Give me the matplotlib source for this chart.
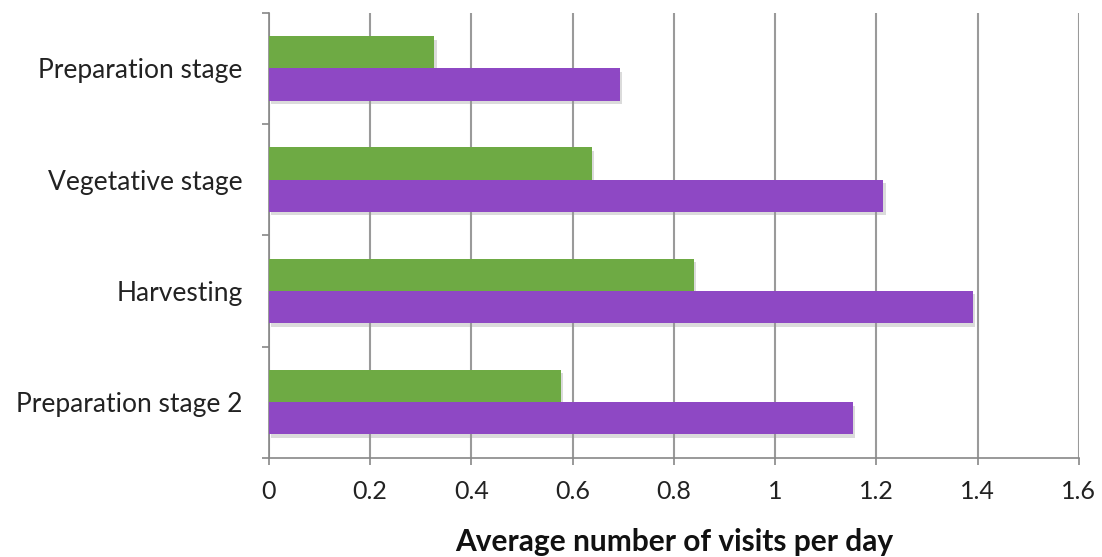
import matplotlib.pyplot as plt
import numpy as np
from matplotlib import patheffects as pe

# data -------------------------------------------------------------
stages = ['Preparation stage', 'Vegetative stage', 'Harvesting', 'Preparation stage 2']
serie_verte = [0.327, 0.638, 0.839, 0.577]
serie_violette = [0.694, 1.214, 1.391, 1.153]
graduations = [0, 0.2, 0.4, 0.6, 0.8, 1, 1.2, 1.4, 1.6]
etiquettes_x = ['0', '0.2', '0.4', '0.6', '0.8', '1', '1.2', '1.4', '1.6']

plt.rcParams['font.family'] = ['Lato', 'DejaVu Sans']

fig = plt.figure(figsize=(11.02, 5.57), dpi=100)
ax = fig.add_axes([0.244, 0.178, 0.735, 0.799])

y = np.arange(len(stages))
h = 0.29
ombre = [pe.SimplePatchShadow(offset=(1.5, -2.5), shadow_rgbFace='#999999', alpha=0.35), pe.Normal()]
b1 = ax.barh(y - h/2, serie_verte, height=h, color='#6eaa44', zorder=3)
b2 = ax.barh(y + h/2, serie_violette, height=h, color='#8e48c4', zorder=3)
for b in list(b1) + list(b2):
    b.set_path_effects(ombre)

ax.set_xlim(0, 1.6)
ax.set_ylim(len(stages) - 0.5, -0.5)
ax.set_xticks(graduations)
ax.set_xticklabels(etiquettes_x, fontsize=18, color='#222222')
ax.set_yticks(y)
ax.set_yticklabels(stages, fontsize=19, color='#222222')
ax.set_yticks(np.arange(len(stages) + 1) - 0.5, minor=True)
ax.tick_params(axis='y', which='major', length=0, pad=19)
ax.tick_params(axis='y', which='minor', length=5, color='#888888', width=1.2)
ax.tick_params(axis='x', length=5, color='#888888', width=1.2, pad=11)

ax.grid(axis='x', color='#9a9a9a', linewidth=1.5, zorder=0)
for s in ['top', 'right']:
    ax.spines[s].set_visible(False)
for s in ['left', 'bottom']:
    ax.spines[s].set_color('#888888')
    ax.spines[s].set_linewidth(1.2)

ax.set_xlabel('Average number of visits per day', fontsize=21.5, fontweight='bold',
              labelpad=18, color='#111111')

plt.savefig('out.png', dpi=100)
